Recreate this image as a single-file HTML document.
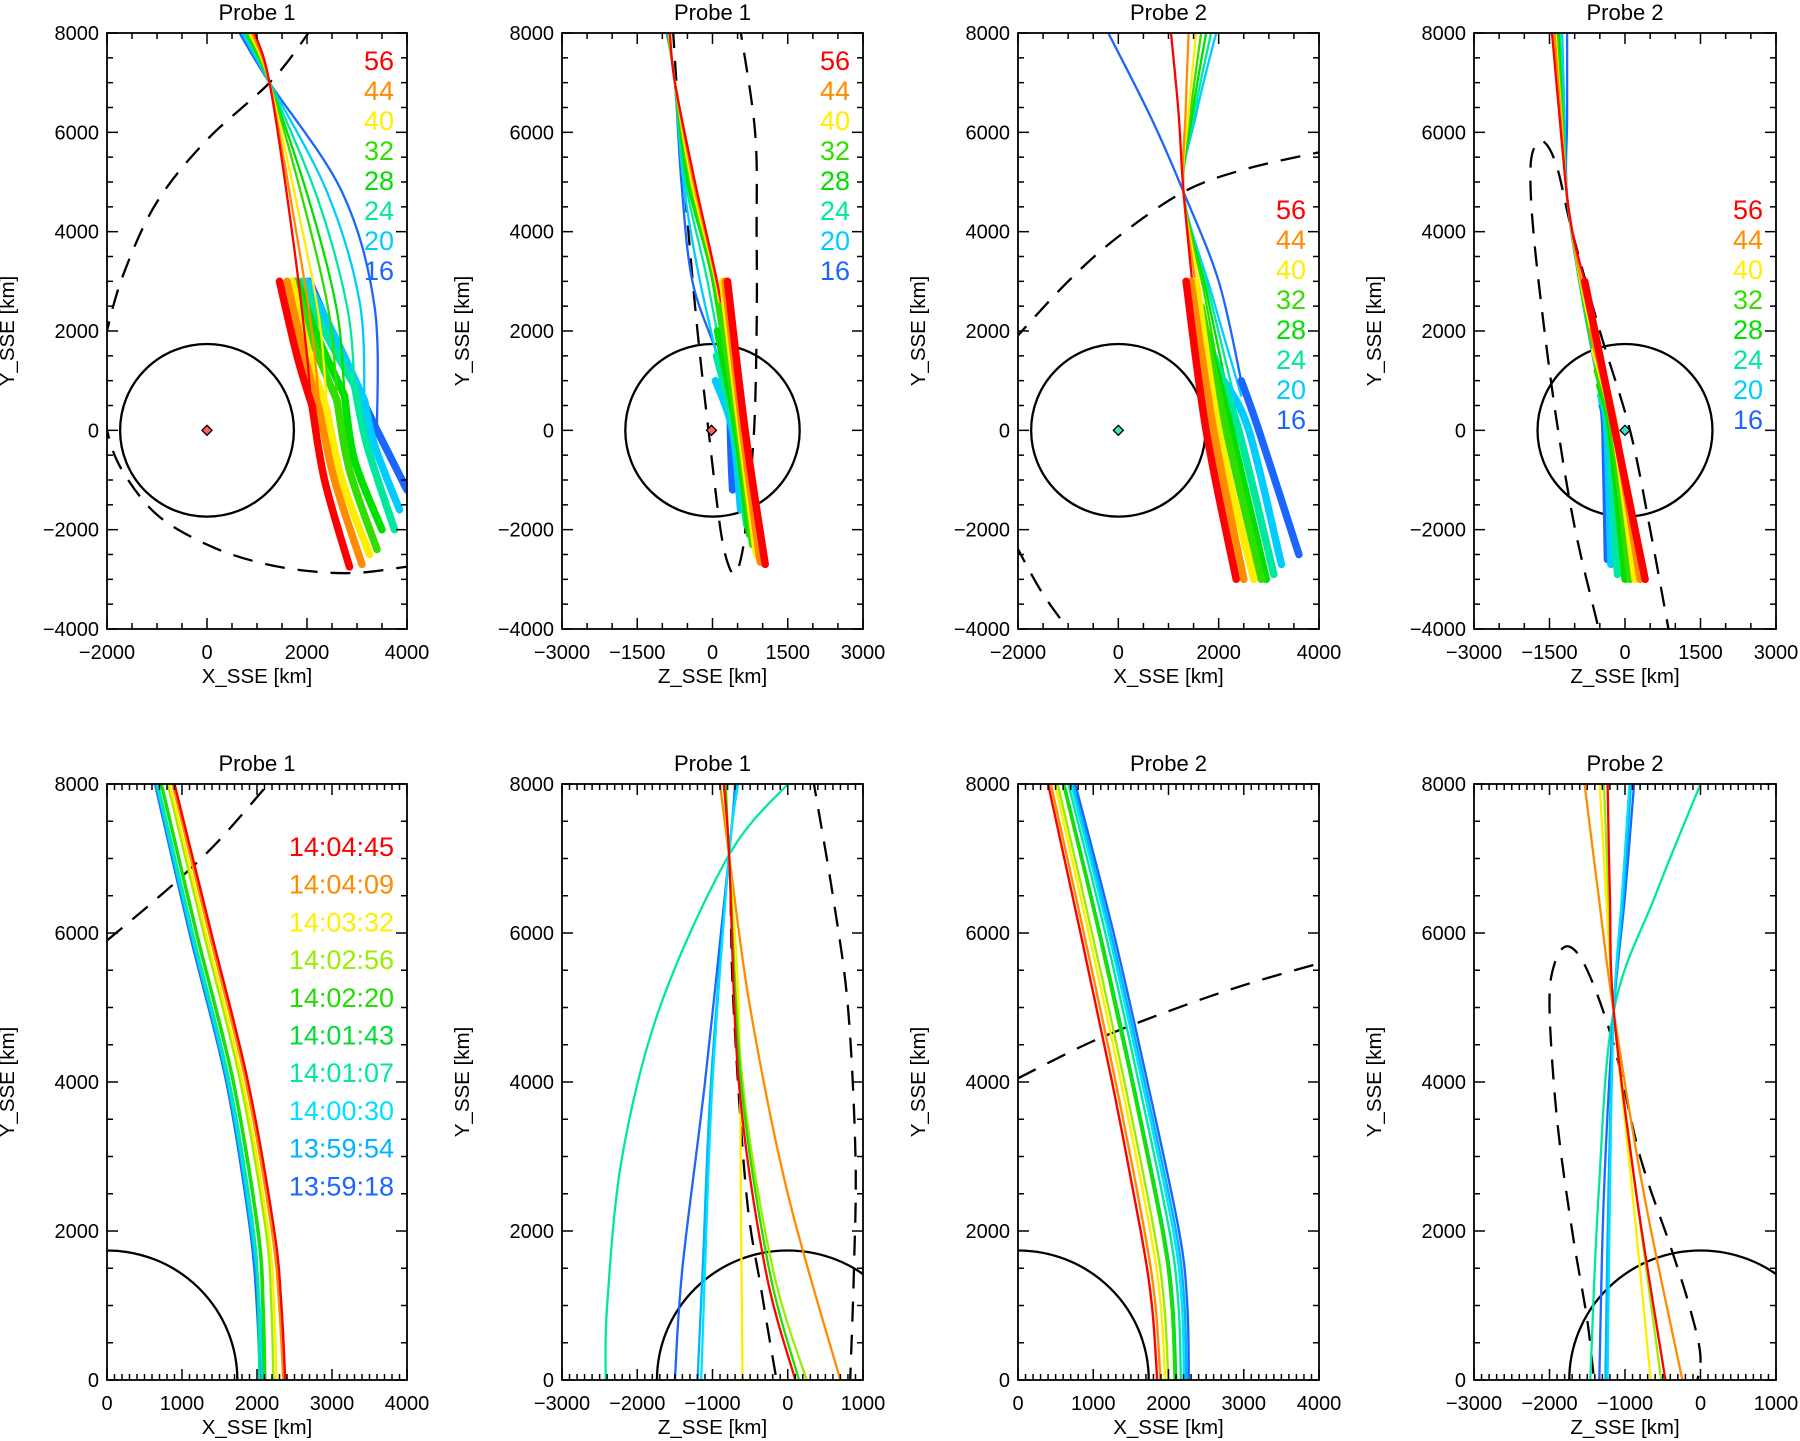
<!DOCTYPE html>
<html><head><meta charset="utf-8">
<style>
html,body{margin:0;padding:0;background:#fff;}
svg{display:block;font-family:"Liberation Sans",sans-serif;}
</style></head>
<body>
<svg id="s" width="1800" height="1441" viewBox="0 0 1800 1441" xmlns="http://www.w3.org/2000/svg"></svg>
<script>
const S=document.getElementById('s');
let out='';
const C10=['#ff0000','#ff8c00','#ffee00','#99ee00','#22dd00','#00dd33','#00e8a0','#00e0ff','#00b4ff','#1a66ff'];
const C8=['#ff0000','#ff8c00','#ffee00','#33dd00','#00e000','#00e8a0','#00ccff','#1a66ff'];
function mk(p){return {
 X:v=>p.x0+(v-p.xr[0])/(p.xr[1]-p.xr[0])*p.w,
 Y:v=>p.y0+p.h-(v-p.yr[0])/(p.yr[1]-p.yr[0])*p.h};}
function smooth(pts){
 if(pts.length<3){return 'M'+pts.map(q=>q[0].toFixed(1)+','+q[1].toFixed(1)).join('L');}
 let d='M'+pts[0][0].toFixed(1)+','+pts[0][1].toFixed(1);
 for(let i=0;i<pts.length-1;i++){
  const p0=pts[i-1]||pts[i],p1=pts[i],p2=pts[i+1],p3=pts[i+2]||p2;
  const c1=[p1[0]+(p2[0]-p0[0])/6,p1[1]+(p2[1]-p0[1])/6];
  const c2=[p2[0]-(p3[0]-p1[0])/6,p2[1]-(p3[1]-p1[1])/6];
  d+='C'+c1.map(v=>v.toFixed(1))+' '+c2.map(v=>v.toFixed(1))+' '+p2.map(v=>v.toFixed(1));
 }
 return d;}
let pid=0;
function panel(p){
 const m=mk(p);pid++;
 out+=`<clipPath id="c${pid}"><rect x="${p.x0}" y="${p.y0}" width="${p.w}" height="${p.h}"/></clipPath>`;
 out+=`<g clip-path="url(#c${pid})">`;
 const R=1738;
 out+=`<ellipse cx="${m.X(0)}" cy="${m.Y(0)}" rx="${m.X(R)-m.X(0)}" ry="${m.Y(0)-m.Y(R)}" fill="none" stroke="#000" stroke-width="2.3"/>`;
 (p.dash||[]).forEach(d=>{out+=`<path d="${smooth(d.map(q=>[m.X(q[0]),m.Y(q[1])]))}" fill="none" stroke="#000" stroke-width="2.3" stroke-dasharray="20,13"/>`;});
 (p.lines||[]).forEach(l=>{out+=`<path d="${smooth(l.pts.map(q=>[m.X(q[0]),m.Y(q[1])]))}" fill="none" stroke="${l.c}" stroke-width="${l.w||2.3}" stroke-linecap="round"/>`;});
 if(p.diamond){const cx=m.X(p.diamond[0]),cy=m.Y(p.diamond[1]);
  out+=`<path d="M${cx-5},${cy}L${cx},${cy-5}L${cx+5},${cy}L${cx},${cy+5}Z" fill="${p.diamond[2]}" stroke="#000" stroke-width="1.3"/>`;}
 out+='</g>';
 out+=`<rect x="${p.x0}" y="${p.y0}" width="${p.w}" height="${p.h}" fill="none" stroke="#000" stroke-width="1.8"/>`;
 const eps=1e-6;
 for(let v=p.xr[0];v<=p.xr[1]+eps;v+=p.xmin){
  const maj=Math.abs(((v-p.xr[0])/p.xmaj)-Math.round((v-p.xr[0])/p.xmaj))<1e-6;const L=maj?11:6;const x=m.X(v);
  out+=`<line x1="${x}" y1="${p.y0+p.h}" x2="${x}" y2="${p.y0+p.h-L}" stroke="#000" stroke-width="1.5"/><line x1="${x}" y1="${p.y0}" x2="${x}" y2="${p.y0+L}" stroke="#000" stroke-width="1.5"/>`;
  if(maj){out+=`<text x="${x}" y="${p.y0+p.h+30}" font-size="20" text-anchor="middle">${v<0?'−'+(-v):v}</text>`;}
 }
 for(let v=p.yr[0];v<=p.yr[1]+eps;v+=p.ymin){
  const maj=Math.abs(((v-p.yr[0])/p.ymaj)-Math.round((v-p.yr[0])/p.ymaj))<1e-6;const L=maj?11:6;const y=m.Y(v);
  out+=`<line x1="${p.x0}" y1="${y}" x2="${p.x0+L}" y2="${y}" stroke="#000" stroke-width="1.5"/><line x1="${p.x0+p.w}" y1="${y}" x2="${p.x0+p.w-L}" y2="${y}" stroke="#000" stroke-width="1.5"/>`;
  if(maj){out+=`<text x="${p.x0-8}" y="${y+7}" font-size="20" text-anchor="end">${v<0?'−'+(-v):v}</text>`;}
 }
 out+=`<text x="${p.x0+p.w/2}" y="${p.y0+p.h+54}" font-size="20.5" text-anchor="middle">${p.xl}</text>`;
 out+=`<text transform="translate(${p.x0-93},${p.y0+p.h/2}) rotate(-90)" font-size="20.5" text-anchor="middle">Y_SSE [km]</text>`;
 out+=`<text x="${p.x0+p.w/2}" y="${p.y0-13}" font-size="22" text-anchor="middle">${p.title}</text>`;
 if(p.leg){p.leg.forEach((t,i)=>{out+=`<text x="${p.x0+p.w-13}" y="${p.legY+i*p.legS}" font-size="${p.legF}" text-anchor="end" fill="${p.legC[i]}">${t}</text>`;});}
}
function L8(arr,w){return arr.map((pts,i)=>({pts,c:C8[i],w})).reverse();}
const nums=['56','44','40','32','28','24','20','16'];
const times=['14:04:45','14:04:09','14:03:32','14:02:56','14:02:20','14:01:43','14:01:07','14:00:30','13:59:54','13:59:18'];
const TW=7.5;
// Panel 1
const th1=L8([
[[2100,500],[2350,-1000],[2850,-2750]],
[[2250,400],[2550,-1000],[3100,-2700]],
[[2400,400],[2700,-1000],[3250,-2500]],
[[2600,600],[2850,-800],[3400,-2400]],
[[2750,700],[2950,-600],[3500,-2000]],
[[2950,900],[3200,-300],[3750,-2000]],
[[3150,600],[3350,-300],[3850,-1600]],
[[3400,0],[3600,-400],[4000,-1200]]],TW);
const th1b=L8([
[[1450,3000],[1800,1500],[2100,500]],
[[1600,3000],[1950,1500],[2250,400]],
[[1700,3000],[2050,1500],[2400,400]],
[[1750,3000],[2150,1700],[2600,600]],
[[1800,3000],[2250,1800],[2750,700]],
[[1900,3000],[2400,1900],[2950,900]],
[[2000,3000],[2600,1800],[3150,600]],
[[2050,3000],[2700,1500],[3400,0]]],TW);
const tn1=L8([
[[950,8000],[1250,7000],[1700,4000],[2000,1500],[2100,200]],
[[900,8000],[1250,7000],[1750,4200],[2100,2000],[2250,400]],
[[850,8000],[1250,7000],[1850,4300],[2250,2200],[2400,400]],
[[800,8000],[1250,7000],[1950,4500],[2450,2300],[2600,600]],
[[780,8000],[1250,7000],[2050,4600],[2600,2400],[2750,700]],
[[750,8000],[1250,7000],[2200,4700],[2800,2500],[2950,900]],
[[700,8000],[1250,7000],[2400,4800],[3050,2600],[3150,600]],
[[650,8000],[1250,7000],[2700,4800],[3350,2500],[3400,0]]],2.3);
panel({x0:107,y0:33,w:300,h:596,xr:[-2000,4000],yr:[-4000,8000],xmaj:2000,xmin:500,ymaj:2000,ymin:500,
 xl:'X_SSE [km]',title:'Probe 1',diamond:[0,0,'#ff6060'],
 dash:[[[2100,8100],[1300,7050],[0,5850],[-1000,4600],[-1650,3200],[-2000,2000],[-2150,1000],[-2000,0],[-1700,-800],[-1000,-1700],[0,-2300],[1000,-2650],[2000,-2830],[3000,-2870],[4100,-2730]]],
 lines:[...th1b,...th1,...tn1],
 leg:nums,legY:70,legS:30,legF:27,legC:C8});
// Panel 2
const tn2=L8([
[[-850,8000],[-750,7000],[-350,5000],[150,2700],[450,700]],
[[-860,8000],[-750,7000],[-380,5000],[120,2800],[420,800]],
[[-870,8000],[-750,7000],[-420,5000],[80,2900],[380,800]],
[[-880,8000],[-750,7000],[-460,5000],[30,3000],[360,700]],
[[-890,8000],[-750,7000],[-500,5000],[-20,3100],[340,700]],
[[-895,8000],[-750,7000],[-540,5000],[-100,3000],[330,600]],
[[-900,8000],[-750,7000],[-580,5000],[-250,3000],[320,500]],
[[-910,8000],[-750,7000],[-620,5000],[-400,3000],[100,1500],[350,400]]],2.3);
const th2=L8([
[[300,3000],[650,0],[1050,-2700]],
[[250,3000],[600,0],[950,-2650]],
[[200,3000],[560,0],[880,-2500]],
[[150,2500],[520,0],[800,-2300]],
[[100,2000],[480,0],[740,-2100]],
[[80,1500],[440,0],[680,-1900]],
[[60,1000],[400,0],[560,-1600]],
[[350,500],[370,-500],[400,-1200]]],TW);
panel({x0:562,y0:33,w:301,h:596,xr:[-3000,3000],yr:[-4000,8000],xmaj:1500,xmin:500,ymaj:2000,ymin:500,
 xl:'Z_SSE [km]',title:'Probe 1',diamond:[-20,0,'#ff6060'],
 dash:[[[-790,8100],[-650,6000],[-480,4000],[-300,2000],[-80,0],[160,-2000],[330,-2750],[480,-2850],[620,-2300],[700,-1500],[830,0],[880,2000],[880,4000],[850,6000],[550,8100]]],
 lines:[...tn2,...th2],
 leg:nums,legY:70,legS:30,legF:27,legC:C8});
// Panel 3
const tops3=[1050,1400,1550,1650,1750,1850,1950,-200];
const ends3=[[1700,500],[1850,300],[2000,300],[2150,300],[2250,400],[2350,500],[2450,700],[2450,1000]];
const tn3=L8(tops3.map((t,i)=>i==7?[[t,8000],[650,6300],[1300,4800],[2000,3000],ends3[i]]:[[t,8000],[t+(1300-t)*0.6,6400],[1300,4800],[(1300+ends3[i][0])/2,2700],ends3[i]]),2.3);
const th3=L8([
[[1350,3000],[1750,0],[2350,-3000]],
[[1450,3000],[1900,0],[2500,-3000]],
[[1550,3000],[2000,0],[2700,-3000]],
[[1650,2500],[2150,0],[2850,-3000]],
[[1750,2000],[2250,0],[2950,-3000]],
[[1900,1500],[2400,0],[3100,-2900]],
[[2100,1000],[2600,0],[3250,-2700]],
[[2450,1000],[2800,0],[3600,-2500]]],TW);
panel({x0:1018,y0:33,w:301,h:596,xr:[-2000,4000],yr:[-4000,8000],xmaj:2000,xmin:500,ymaj:2000,ymin:500,
 xl:'X_SSE [km]',title:'Probe 2',diamond:[0,0,'#40e0c0'],
 dash:[[[-2100,1800],[-1000,3000],[0,3900],[1300,4800],[2500,5250],[4100,5620]],[[-2050,-2300],[-1500,-3300],[-850,-4200]]],
 lines:[...tn3,...th3],
 leg:nums,legY:219,legS:30,legF:27,legC:C8});
// Panel 4
const tops4=[-1450,-1400,-1380,-1350,-1320,-1300,-1250,-1150];
const st4=[[-800,3000],[-650,2000],[-600,1600],[-550,1200],[-500,900],[-480,700],[-460,600],[-450,500]];
const tn4=L8(tops4.map((t,i)=>[[t,8000],[(t-1150)/2,6300],[-1150,4700],[(-1150+st4[i][0])/2-40,(4700+st4[i][1])/2],st4[i]]),2.3);
const th4=L8([
[[-800,3000],[-200,0],[400,-3000]],
[[-650,2000],[-190,0],[300,-3000]],
[[-600,1600],[-200,0],[200,-3000]],
[[-550,1200],[-240,0],[100,-3000]],
[[-500,900],[-280,0],[0,-3000]],
[[-480,700],[-320,0],[-150,-2900]],
[[-460,600],[-360,0],[-280,-2700]],
[[-450,500],[-400,0],[-350,-2600]]],TW);
panel({x0:1474,y0:33,w:302,h:596,xr:[-3000,3000],yr:[-4000,8000],xmaj:1500,xmin:500,ymaj:2000,ymin:500,
 xl:'Z_SSE [km]',title:'Probe 2',diamond:[0,0,'#40e0c0'],
 dash:[[[900,-4200],[500,-2000],[100,0],[-500,2000],[-1050,4000],[-1350,5300],[-1600,5800],[-1800,5700],[-1880,5200],[-1820,4000],[-1600,2000],[-1330,0],[-990,-2000],[-570,-3800],[-480,-4200]]],
 lines:[...tn4,...th4],
 leg:nums,legY:219,legS:30,legF:27,legC:C8});
// Panel 5
const t5=[1,.9,.75,.65,.35,.3,.15,.1,.05,0];
const b5=[2376,2350,2260,2220,2110,2090,2030,2080,2070,2040];
const l5=t5.map((t,i)=>{const a=1910+320*t;return {c:C10[i],w:2.4,pts:[[640+260*t,8000],[1100+290*t,6000],[1590+290*t,4000],[a,2000],[(a+b5[i])/2+22,1000],[b5[i],0]]};}).reverse();
panel({x0:107,y0:784,w:300,h:596,xr:[0,4000],yr:[0,8000],xmaj:1000,xmin:100,ymaj:2000,ymin:500,
 xl:'X_SSE [km]',title:'Probe 1',
 dash:[[[0,5900],[500,6320],[1000,6760],[1500,7250],[2150,8000]]],
 lines:l5,leg:times,legY:856,legS:37.7,legF:27,legC:C10});
// Panel 6
const l6=[
 {c:C10[6],pts:[[0,8000],[-780,7050],[-1700,5000],[-2200,3000],[-2400,1000],[-2420,0]]},
 {c:C10[9],pts:[[-700,8000],[-780,7050],[-1100,4000],[-1400,1500],[-1500,0]]},
 {c:C10[8],pts:[[-680,8000],[-780,7050],[-1020,4000],[-1130,1500],[-1200,0]]},
 {c:C10[7],pts:[[-660,8000],[-780,7050],[-1000,4000],[-1100,1500],[-1150,0]]},
 {c:C10[1],pts:[[-900,8000],[-780,7050],[-500,5000],[0,2500],[700,0]]},
 {c:C10[2],pts:[[-850,8000],[-780,7050],[-650,5000],[-620,2000],[-600,0]]},
 {c:C10[3],pts:[[-820,8000],[-780,7050],[-600,4000],[-200,1500],[250,0]]},
 {c:C10[4],pts:[[-830,8000],[-780,7050],[-620,4000],[-250,1500],[150,0]]},
 {c:C10[0],pts:[[-850,8000],[-780,7050],[-650,4000],[-300,1500],[100,0]]}];
panel({x0:562,y0:784,w:301,h:596,xr:[-3000,1000],yr:[0,8000],xmaj:1000,xmin:100,ymaj:2000,ymin:500,
 xl:'Z_SSE [km]',title:'Probe 1',
 dash:[[[330,8100],[600,6500],[800,5000],[900,3000],[880,1500],[830,0]],[[-760,6500],[-720,5000],[-550,2500],[-350,1200],[-150,0]]],
 lines:l6});
// Panel 7
const t7=[0,.1,.25,.35,.55,.6,.75,.85,.92,1];
const l7=t7.map((t,i)=>({c:C10[i],w:2.4,pts:[[400+360*t,8000],[830+440*t,6000],[1250+470*t,4000],[1630+510*t,2000],[1780+470*t,1000],[1850+420*t,0]]})).reverse();
panel({x0:1018,y0:784,w:301,h:596,xr:[0,4000],yr:[0,8000],xmaj:1000,xmin:100,ymaj:2000,ymin:500,
 xl:'X_SSE [km]',title:'Probe 2',
 dash:[[[0,4050],[1000,4550],[2000,4950],[3000,5300],[4100,5620]]],
 lines:l7});
// Panel 8
const l8=[
 {c:C10[6],pts:[[0,8000],[-600,6500],[-1150,4950],[-1350,2500],[-1460,0]]},
 {c:C10[9],pts:[[-880,8000],[-1000,6500],[-1150,4950],[-1280,2500],[-1340,0]]},
 {c:C10[8],pts:[[-920,8000],[-1020,6500],[-1150,4950],[-1220,2500],[-1260,0]]},
 {c:C10[7],pts:[[-940,8000],[-1040,6500],[-1150,4950],[-1200,2500],[-1230,0]]},
 {c:C10[1],pts:[[-1535,8000],[-1350,6500],[-1150,4950],[-750,2500],[-240,0]]},
 {c:C10[2],pts:[[-1335,8000],[-1250,6500],[-1150,4950],[-900,2500],[-660,0]]},
 {c:C10[3],pts:[[-1280,8000],[-1220,6500],[-1150,4950],[-850,2500],[-520,0]]},
 {c:C10[0],pts:[[-1230,8000],[-1200,6500],[-1150,4950],[-850,2500],[-465,0]]}];
panel({x0:1474,y0:784,w:302,h:596,xr:[-3000,1000],yr:[0,8000],xmaj:1000,xmin:100,ymaj:2000,ymin:500,
 xl:'Z_SSE [km]',title:'Probe 2',
 dash:[[[-100,-200],[0,300],[-150,1000],[-400,1800],[-800,3000],[-1150,4500],[-1500,5500],[-1750,5820],[-1930,5600],[-2000,5000],[-1900,3500],[-1700,2000],[-1500,800],[-1400,-100]]],
 lines:l8});
S.innerHTML=out;
</script>
</body></html>
